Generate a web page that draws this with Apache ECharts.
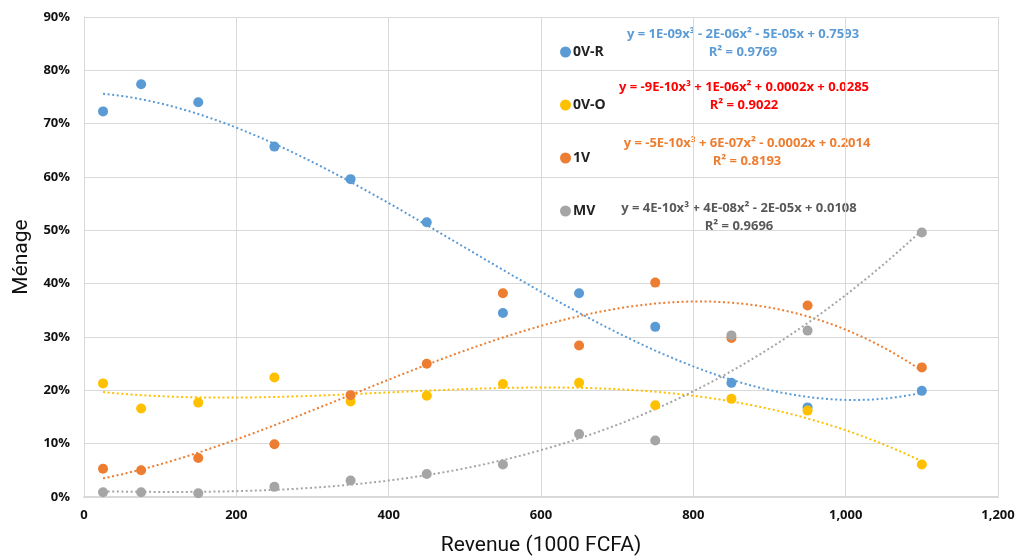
<!DOCTYPE html>
<html>
<head>
<meta charset="utf-8">
<script src="https://cdn.jsdelivr.net/npm/echarts@6/dist/echarts.min.js"></script>
<style>
  html, body { margin: 0; padding: 0; background: #fff; }
  #chart { width: 1016px; height: 559px; }
</style>
</head>
<body>
<div id="chart"></div>
<script>
// Household revenue classes (1000 FCFA)
const revenue = [25, 75, 150, 250, 350, 450, 550, 650, 750, 850, 950, 1100];

// Share of households per category
const ovR = [0.723, 0.774, 0.740, 0.657, 0.596, 0.515, 0.345, 0.382, 0.319, 0.214, 0.168, 0.199];
const ovO = [0.213, 0.166, 0.177, 0.224, 0.179, 0.190, 0.212, 0.214, 0.172, 0.184, 0.162, 0.061];
const oneV = [0.053, 0.050, 0.073, 0.099, 0.191, 0.250, 0.382, 0.284, 0.402, 0.298, 0.359, 0.243];
const mv = [0.009, 0.009, 0.007, 0.019, 0.031, 0.043, 0.061, 0.118, 0.106, 0.303, 0.312, 0.496];

const seriesNames = ['0V-R', '0V-O', '1V', 'MV'];
const seriesColors = ['#5B9BD5', '#FFC000', '#ED7D31', '#A5A5A5'];

// Trendline equation labels
const eqLines = [
  'y = 1E-09x³ - 2E-06x² - 5E-05x + 0.7593',
  'y = -9E-10x³ + 1E-06x² + 0.0002x + 0.0285',
  'y = -5E-10x³ + 6E-07x² - 0.0002x + 0.2014',
  'y = 4E-10x³ + 4E-08x² - 2E-05x + 0.0108'
];
const r2Lines = ['R² = 0.9769', 'R² = 0.9022', 'R² = 0.8193', 'R² = 0.9696'];
const eqColors = ['#5B9BD5', '#FF0000', '#ED7D31', '#595959'];

const xTicks = [0, 200, 400, 600, 800, 1000, 1200];

// Cubic least-squares fit (x scaled to thousands for conditioning)
function cubicFit(xs, ys) {
  const n = 4;
  const A = Array.from({ length: n }, () => new Array(n + 1).fill(0));
  xs.forEach((x0, k) => {
    const x = x0 / 1000;
    const p = [1, x, x * x, x * x * x];
    for (let i = 0; i < n; i++) {
      for (let j = 0; j < n; j++) A[i][j] += p[i] * p[j];
      A[i][n] += p[i] * ys[k];
    }
  });
  for (let c = 0; c < n; c++) {
    let piv = c;
    for (let r = c + 1; r < n; r++) if (Math.abs(A[r][c]) > Math.abs(A[piv][c])) piv = r;
    [A[c], A[piv]] = [A[piv], A[c]];
    for (let r = 0; r < n; r++) {
      if (r === c) continue;
      const f = A[r][c] / A[c][c];
      for (let j = c; j <= n; j++) A[r][j] -= f * A[c][j];
    }
  }
  const coef = A.map((row, i) => row[n] / row[i]);
  return (x0) => {
    const x = x0 / 1000;
    return coef[0] + coef[1] * x + coef[2] * x * x + coef[3] * x * x * x;
  };
}

function trendPoints(xs, ys) {
  const f = cubicFit(xs, ys);
  const pts = [];
  const x0 = xs[0], x1 = xs[xs.length - 1];
  for (let x = x0; x <= x1; x += 5) pts.push([x, f(x)]);
  return pts;
}

const allValues = [ovR, ovO, oneV, mv];
const series = [];
// trendlines first so the dots sit on top
allValues.forEach((vals, i) => {
  series.push({
    name: seriesNames[i] + ' trend',
    type: 'line',
    data: trendPoints(revenue, vals),
    showSymbol: false,
    silent: true,
    z: 2,
    lineStyle: { color: seriesColors[i], width: 2, type: [2, 2.6] }
  });
});
allValues.forEach((vals, i) => {
  series.push({
    name: seriesNames[i],
    type: 'scatter',
    data: revenue.map((x, k) => [x, vals[k]]),
    symbol: 'circle',
    symbolSize: 10,
    z: 3,
    itemStyle: { color: seriesColors[i], opacity: 1 }
  });
});

// Equation labels, stacked beside the legend
const eqCenters = [[743, 34], [744, 87], [747, 143], [739, 208]];
const graphics = [];
eqLines.forEach((t, i) => {
  graphics.push({
    type: 'text', x: eqCenters[i][0], y: eqCenters[i][1],
    style: { text: t, fill: eqColors[i], fontSize: 13, fontWeight: 'bold',
      fontFamily: 'Open Sans', textAlign: 'center', textVerticalAlign: 'middle' }
  });
  graphics.push({
    type: 'text', x: eqCenters[i][0], y: eqCenters[i][1] + 18,
    style: { text: r2Lines[i], fill: eqColors[i], fontSize: 13, fontWeight: 'bold',
      fontFamily: 'Open Sans', textAlign: 'center', textVerticalAlign: 'middle' }
  });
});

const chart = echarts.init(document.getElementById('chart'), null, { renderer: 'canvas' });
chart.setOption({
  animation: false,
  backgroundColor: '#ffffff',
  textStyle: { fontFamily: 'Open Sans' },
  grid: { left: 84, top: 17, right: 18, bottom: 62, containLabel: false, outerBoundsMode: 'none' },
  legend: {
    data: seriesNames,
    orient: 'vertical',
    left: 555,
    top: 40,
    itemWidth: 11,
    itemHeight: 11,
    itemGap: 39,
    icon: 'circle',
    textStyle: { fontSize: 14, fontWeight: 'bold', color: '#222', fontFamily: 'Open Sans', padding: [0, 0, 0, -3] }
  },
  xAxis: {
    type: 'value',
    min: 0, max: 1200, interval: 200,
    name: 'Revenue (1000 FCFA)',
    nameLocation: 'middle',
    nameGap: 38,
    nameTextStyle: { fontSize: 21, color: '#111', fontFamily: 'Roboto' },
    axisLine: { show: true, lineStyle: { color: '#D9D9D9', width: 2 } },
    axisTick: { show: false },
    axisLabel: {
      margin: 12, fontSize: 13, fontWeight: 'bold', color: '#111',
      formatter: (v) => xTicks.includes(v) ? v.toLocaleString('en-US') : ''
    },
    splitLine: { show: true, lineStyle: { color: '#D9D9D9', width: 1 } }
  },
  yAxis: {
    type: 'value',
    min: 0, max: 0.9, interval: 0.1,
    name: 'Ménage',
    nameLocation: 'middle',
    nameGap: 52,
    nameTextStyle: { fontSize: 21, color: '#111', fontFamily: 'Roboto' },
    axisLine: { show: true, lineStyle: { color: '#D9D9D9', width: 1 } },
    axisTick: { show: false },
    axisLabel: {
      margin: 14, fontSize: 13, fontWeight: 'bold', color: '#111',
      formatter: (v) => Math.round(v * 100) + '%'
    },
    splitLine: { show: true, lineStyle: { color: '#D9D9D9', width: 1 } }
  },
  graphic: graphics,
  series: series
});
</script>
</body>
</html>
